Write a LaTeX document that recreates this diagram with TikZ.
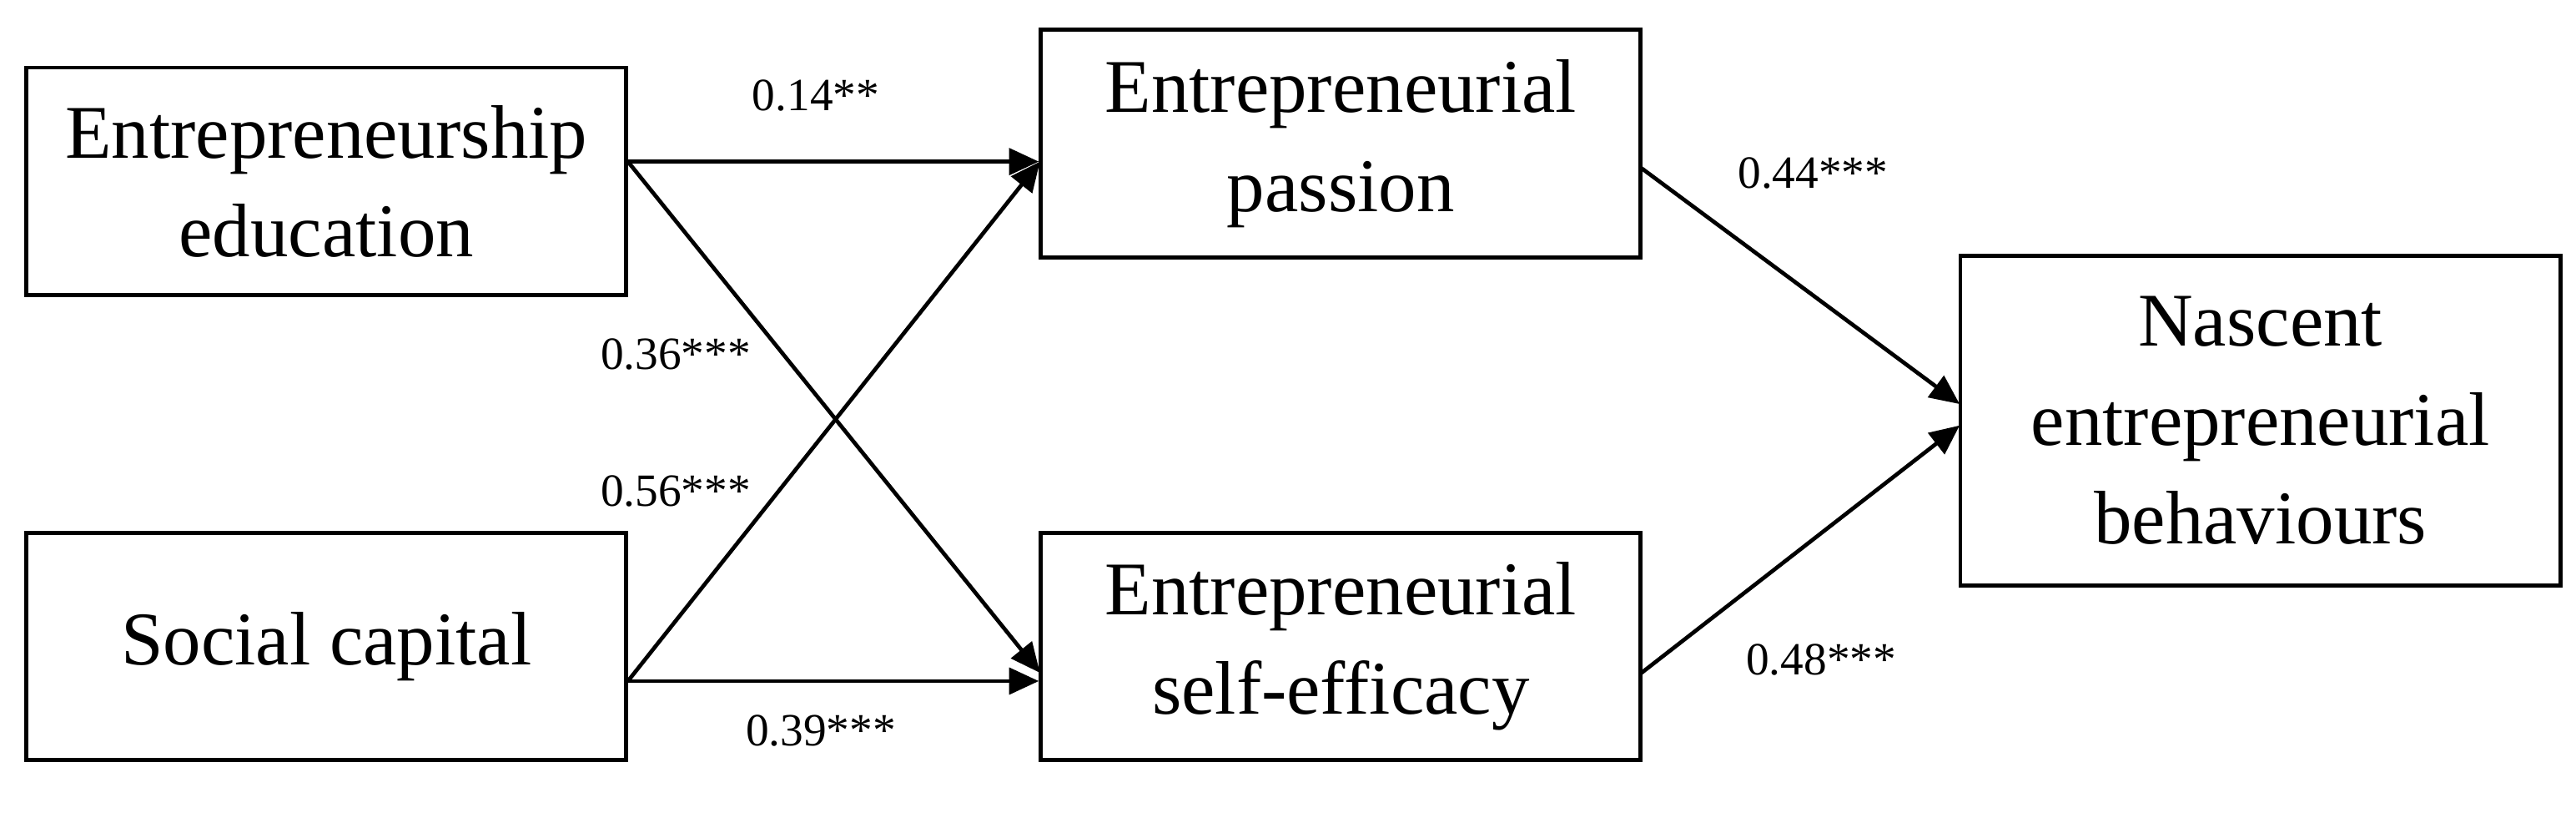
\documentclass[tikz,border=0pt]{standalone}
\usepackage{fontspec}
\setmainfont{Liberation Serif}
\usetikzlibrary{arrows.meta}
\begin{document}
\begin{tikzpicture}[x=0.5pt,y=-0.5pt,
 box/.style={draw,line width=1.2pt,inner sep=0pt,font=\fontsize{23}{30}\selectfont,align=center},
 arr/.style={line width=1.2pt,-{Triangle[length=9pt,width=8pt]}},
 lab/.style={font=\fontsize{14}{16}\selectfont}]
\useasboundingbox (0,0) rectangle (1563,499);
\node[box,minimum width=182pt,minimum height=69pt] (ee) at (198,110) {Entrepreneurship\\education};
\node[box,minimum width=182pt,minimum height=69pt] (sc) at (198,392) {Social capital};
\node[box,minimum width=182pt,minimum height=69pt] (ep) at (813.5,87) {Entrepreneurial\\passion};
\node[box,minimum width=182pt,minimum height=69pt] (es) at (813.5,392) {Entrepreneurial\\self-efficacy};
\node[box,minimum width=182pt,minimum height=100pt] (nb) at (1371.5,255) {Nascent\\entrepreneurial\\behaviours};
\coordinate (eeo) at (381,98);
\coordinate (sco) at (381,413);
\draw[arr] (eeo) -- (ep.west |- eeo);
\draw[arr] (eeo) -- (631,408);
\draw[arr] (sco) -- (631,98);
\draw[arr] (sco) -- (es.west |- sco);
\draw[arr] (996,102) -- (1189,245);
\draw[arr] (996,408) -- (1189,258);
\node[lab] (l1) at (495,58) {0.14**};
\node[lab] (l2) at (410,215) {0.36***};
\node[lab] (l3) at (410,298) {0.56***};
\node[lab] (l4) at (498,443) {0.39***};
\node[lab] (l5) at (1100,105) {0.44***};
\node[lab] (l6) at (1105,400) {0.48***};
\end{tikzpicture}
\end{document}
